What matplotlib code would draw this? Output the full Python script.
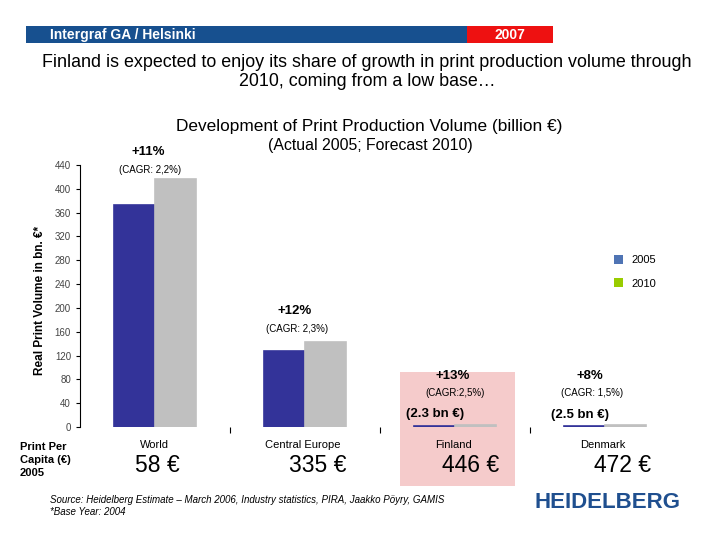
import numpy as np
import matplotlib
matplotlib.use('Agg')
import matplotlib.pyplot as plt
from matplotlib.patches import Rectangle, Patch

plt.rcParams['font.family'] = ['Liberation Sans', 'DejaVu Sans']

# data
regions = ['World', 'Central Europe', 'Finland', 'Denmark']
vol_2005 = [373, 128, 2.3, 2.5]
vol_2010 = [416, 143, 2.6, 2.7]
growth = ['+11%', '+12%', '+13%', '+8%']
cagr = ['(CAGR: 2,2%)', '(CAGR: 2,3%)', '(CAGR:2,5%)', '(CAGR: 1,5%)']
small_note = ['', '', '(2.3 bn €)', '(2.5 bn €)']
per_capita = ['58 €', '335 €', '446 €', '472 €']
yticks = np.arange(0, 441, 40)

W, H = 720, 540
fig = plt.figure(figsize=(7.2, 5.4), dpi=100)
fig.patch.set_facecolor('white')

def px(x, y):
    return x / W, 1 - y / H

# header strip
fig.patches.append(Rectangle(px(26, 43), 441 / W, 17 / H, transform=fig.transFigure,
                             facecolor='#17508f', edgecolor='none', zorder=-2))
fig.patches.append(Rectangle(px(467, 43), 86 / W, 17 / H, transform=fig.transFigure,
                             facecolor='#ee1111', edgecolor='none', zorder=-2))
fig.text(*px(50, 35), 'Intergraf GA / Helsinki', color='white', fontsize=10, fontweight='bold', va='center')
fig.text(*px(510, 35), '2007', color='white', fontsize=10, fontweight='bold', va='center', ha='center')

fig.text(*px(367, 72), 'Finland is expected to enjoy its share of growth in print production volume through\n2010, coming from a low base…',
         ha='center', va='center', fontsize=12.9, linespacing=1.2)

fig.text(*px(369, 127), 'Development of Print Production Volume (billion €)', ha='center', va='center', fontsize=12.4)
fig.text(*px(370, 145), '(Actual 2005; Forecast 2010)', ha='center', va='center', fontsize=11.4)

# pink highlight behind Finland
fig.patches.append(Rectangle(px(400, 486), 115 / W, 114 / H, transform=fig.transFigure,
                             facecolor='#f5cbcb', edgecolor='none', zorder=-2))

ax = fig.add_axes([80 / W, 1 - 427 / H, 600 / W, 262 / H])
ax.set_facecolor('none')
x = np.arange(len(regions))
bw = 0.274
ax.bar(x - bw / 2, vol_2005, bw, color='#333399', edgecolor='#333399', linewidth=1.2)
ax.bar(x + bw / 2, vol_2010, bw, color='#c0c0c0', edgecolor='#c0c0c0', linewidth=1.2)
ax.set_xlim(-0.5, 3.5)
ax.set_ylim(0, 440)
ax.set_yticks(yticks)
ax.tick_params(axis='y', labelsize=7, labelcolor='#444444', length=3, width=0.8)
ax.set_xticks([0.5, 1.5, 2.5])
ax.set_xticklabels([])
ax.tick_params(axis='x', length=4, width=0.8, direction='out')
for s in ['top', 'right', 'bottom']:
    ax.spines[s].set_visible(False)
ax.spines['left'].set_linewidth(0.8)

fig.text(*px(40, 300), 'Real Print Volume in bn. €*', rotation=90, ha='center', va='center',
         fontsize=8.5, fontweight='bold')

# annotations above bars
g_pos = [(148, 152), (295, 311), (453, 376), (590, 376)]
c_pos = [(150, 170), (297, 329), (455, 393), (592, 393)]
n_pos = [None, None, (435, 414), (580, 415)]
for i in range(len(regions)):
    fig.text(*px(*g_pos[i]), growth[i], ha='center', va='center', fontsize=9.5, fontweight='bold')
    fig.text(*px(*c_pos[i]), cagr[i], ha='center', va='center', fontsize=7)
    if small_note[i]:
        fig.text(*px(*n_pos[i]), small_note[i], ha='center', va='center', fontsize=9.5, fontweight='bold')

# legend (colours as on the slide)
handles = [Patch(facecolor='#4f74b4', label='2005'), Patch(facecolor='#99cc00', label='2010')]
fig.legend(handles=handles, loc='upper left', bbox_to_anchor=px(604, 245), frameon=False,
           fontsize=8, handlelength=0.8, handleheight=0.8, labelspacing=1.2, handletextpad=0.8)

# per capita row
fig.text(*px(20, 460), 'Print Per\nCapita (€)\n2005', ha='left', va='center', fontsize=8,
         fontweight='bold', linespacing=1.35)
name_x = [154, 303, 453, 603]
val_x = [157, 318, 471, 623]
for i in range(len(regions)):
    fig.text(*px(name_x[i], 445), regions[i], ha='center', va='center', fontsize=8)
    fig.text(*px(val_x[i], 466), per_capita[i], ha='center', va='center', fontsize=16.5)

fig.text(*px(50, 500), 'Source: Heidelberg Estimate – March 2006, Industry statistics, PIRA, Jaakko Pöyry, GAMIS',
         fontsize=7, style='italic', va='center')
fig.text(*px(50, 512), '*Base Year: 2004', fontsize=7, style='italic', va='center')
fig.text(*px(608, 503), 'HEIDELBERG', fontsize=16, fontweight='bold', color='#1f4f8f',
         ha='center', va='center')

fig.savefig('out.png', dpi=100)
